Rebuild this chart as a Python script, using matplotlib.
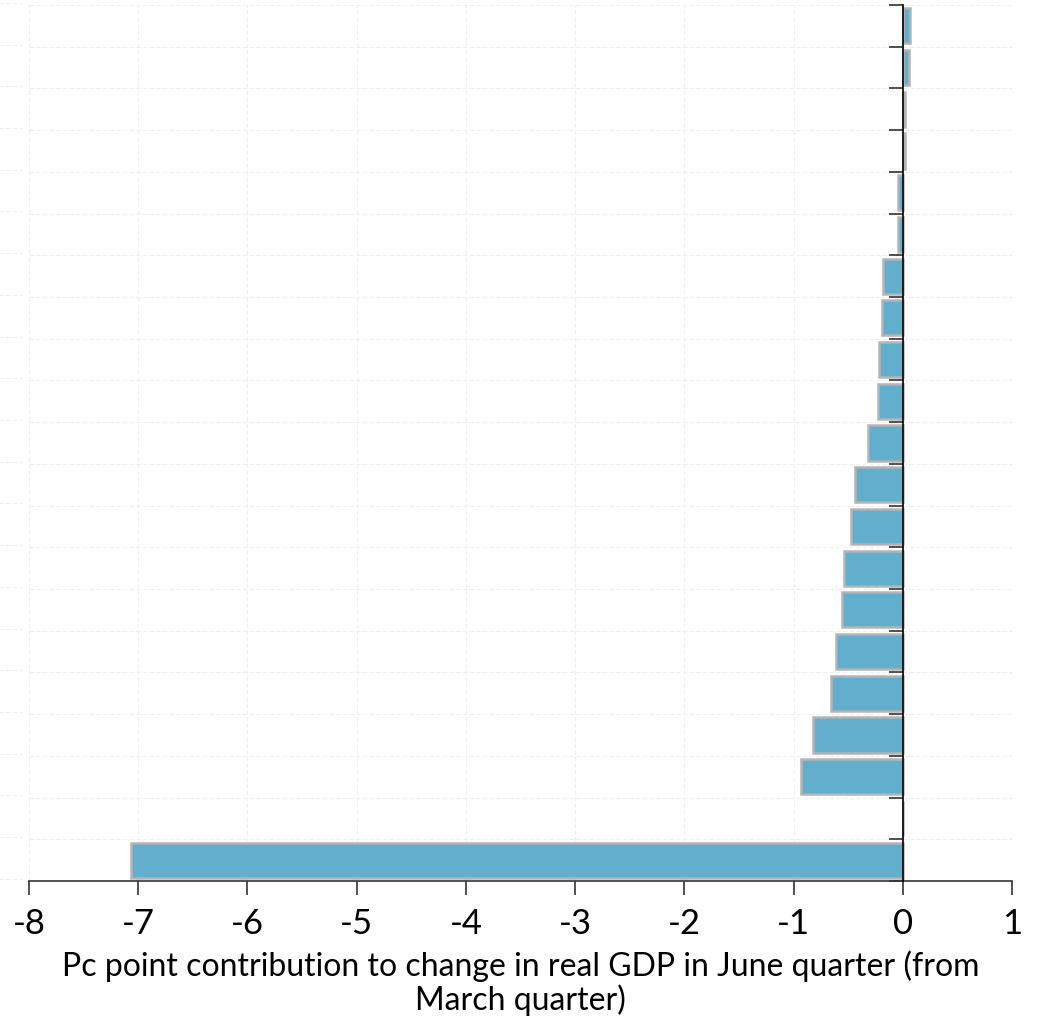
import matplotlib
matplotlib.use("Agg")
import matplotlib.pyplot as plt
import numpy as np

# Data (top bar first as seen in chart)
categories = [f"Item {i}" for i in range(1, 22)]
values = [0.07, 0.06, 0.02, 0.02, -0.04, -0.04, -0.18, -0.19, -0.22, -0.23,
          -0.32, -0.44, -0.47, -0.54, -0.56, -0.61, -0.66, -0.82, -0.93, 0.0, -7.07]
xticks = [-8, -7, -6, -5, -4, -3, -2, -1, 0, 1]
xlabel = "Pc point contribution to change in real GDP in June quarter (from\nMarch quarter)"

plt.rcParams['font.family'] = ['Lato', 'DejaVu Sans']

fig = plt.figure(figsize=(10.38, 10.20), dpi=100)
ax = fig.add_axes([0.0279, 0.1353, 0.9471, 0.8588])

n = len(values)
ypos = np.arange(n)[::-1]
ax.barh(ypos, values, height=0.84, color="#62AFCD", edgecolor="#b4b4b4", linewidth=1.8, zorder=3)

ax.set_xlim(-8, 1)
ax.set_ylim(-0.5, n - 0.5)
bounds = np.arange(n + 1) - 0.5
ax.set_yticks(bounds)
ax.set_yticklabels([])
ax.set_xticks(xticks)
ax.set_xticklabels([str(t) for t in xticks], fontsize=25)

for s in ['top', 'right']:
    ax.spines[s].set_visible(False)
ax.spines['left'].set_position(('data', 0))
ax.spines['left'].set_color('black')
ax.spines['left'].set_linewidth(1.2)
ax.spines['left'].set_zorder(4)
ax.spines['bottom'].set_color('#333333')
ax.spines['bottom'].set_linewidth(1.2)
ax.tick_params(axis='y', direction='out', length=10, width=1.2, color='#333333')
ax.tick_params(axis='x', direction='out', length=10, width=1.2, color='#333333', pad=9)

ax.grid(True, which='major', axis='both', color='#efefef', linestyle=(0, (4, 2)), linewidth=0.8, zorder=0)
ax.set_axisbelow(True)
ax.hlines(bounds + 0.05, -8.27, -8.06, colors='#efefef', linewidth=0.8, linestyles=(0, (4, 2)), clip_on=False)

ax.set_xlabel(xlabel, fontsize=23, labelpad=7, linespacing=1.12)

fig.savefig("out.png", dpi=100)
